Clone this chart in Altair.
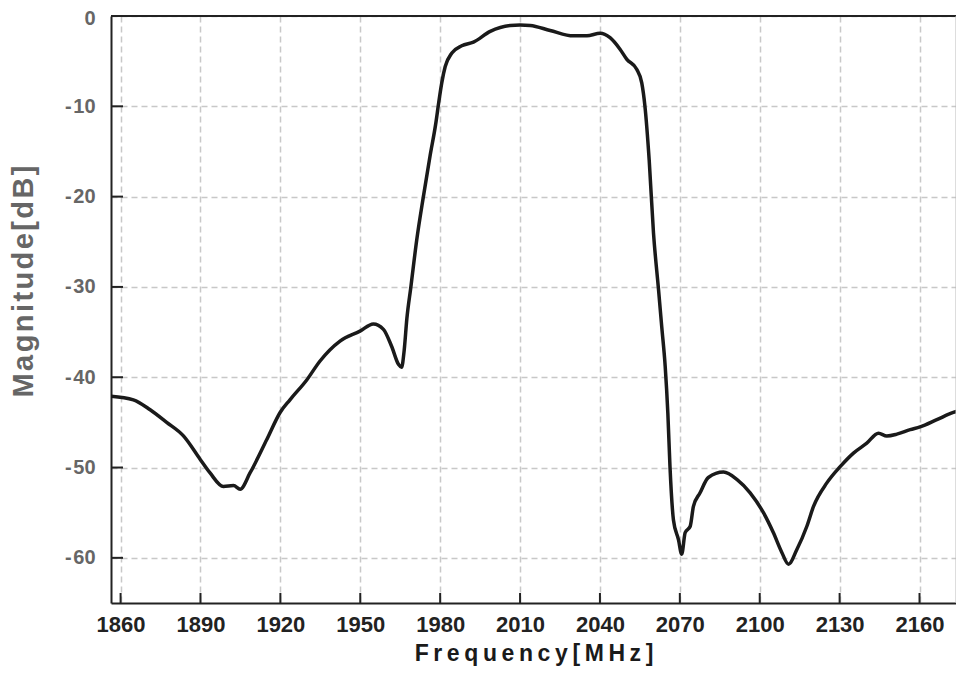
import altair as alt
import pandas as pd

freq = [1856.4, 1864.8, 1871.1, 1877.3, 1883.6, 1889.9, 1893.6, 1898.6, 1902.4, 1904.9,
        1908.6, 1914.9, 1919.9, 1923.6, 1929.9, 1934.9, 1942.4, 1949.9, 1954.9, 1958.7,
        1961.8, 1964.4, 1965.5, 1966.5, 1967.5, 1969.0, 1971.2, 1973.7, 1976.2, 1978.3,
        1979.5, 1980.6, 1981.9, 1984.4, 1988.1, 1992.5, 1998.8, 2006.3, 2010.0, 2013.8,
        2021.3, 2030.0, 2035.1, 2040.1, 2043.8, 2047.6, 2050.1, 2053.8, 2055.7, 2056.9,
        2058.5, 2060.1, 2062.0, 2063.2, 2064.5, 2065.5, 2066.3, 2067.6, 2069.5, 2070.7,
        2072.0, 2073.9, 2075.1, 2077.6, 2080.7, 2086.4, 2091.4, 2096.4, 2101.4, 2105.1,
        2108.3, 2110.8, 2113.9, 2117.7, 2120.2, 2125.2, 2130.2, 2135.2, 2140.2, 2144.6,
        2147.7, 2151.5, 2156.5, 2160.2, 2166.5, 2172.7, 2176.4]
mag = [-42.1, -42.5, -43.6, -45.0, -46.5, -49.1, -50.6, -52.1, -52.0, -52.4,
       -50.6, -46.9, -43.9, -42.5, -40.3, -38.2, -36.0, -34.9, -34.1, -34.7,
       -36.6, -38.6, -38.9, -37.0, -33.5, -30.0, -24.8, -20.0, -15.5, -12.0,
       -9.5, -7.4, -5.6, -4.1, -3.3, -2.9, -1.7, -1.05, -1.0, -1.05,
       -1.6, -2.2, -2.2, -1.9, -2.4, -3.7, -4.8, -5.9, -7.4, -10.0,
       -16.0, -24.0, -30.3, -34.4, -38.8, -44.0, -49.9, -55.8, -58.0, -59.6,
       -57.2, -56.5, -54.3, -52.8, -51.1, -50.5, -51.3, -52.8, -55.0, -57.2,
       -59.4, -60.7, -59.1, -56.5, -54.3, -51.7, -49.9, -48.4, -47.3, -46.2,
       -46.5, -46.3, -45.8, -45.5, -44.7, -43.9, -43.6]

x_ticks = [1860, 1890, 1920, 1950, 1980, 2010, 2040, 2070, 2100, 2130, 2160]
y_ticks = [0, -10, -20, -30, -40, -50, -60]
x_title = "\u2009".join("Frequency[MHz]")
y_title = "\u200a".join("Magnitude[dB]")

W, H = 845, 587
df = pd.DataFrame({"freq": freq, "mag": mag, "i": list(range(len(freq)))})
xs = alt.Scale(domain=[1856.4, 2173.7], nice=False, zero=False)
ys = alt.Scale(domain=[-65, 0], nice=False, zero=False)

FONT = "Liberation Sans"

line = alt.Chart(df).mark_line(
    color="#1a1a1a", strokeWidth=3.5, interpolate="monotone", clip=True
).encode(
    x=alt.X("freq:Q", scale=xs, axis=alt.Axis(
        values=x_ticks, title=x_title, format="d", grid=True, gridDash=[6, 4],
        gridColor="#c8c8c8", gridWidth=1.5, ticks=False, domain=True,
        domainColor="#222222", domainWidth=2,
        labelFont=FONT, labelFontWeight="bold", labelFontSize=22, labelColor="#222222",
        labelPadding=11, titleFont=FONT, titleFontWeight="bold", titleFontSize=23,
        titleColor="#1a1a1a", titlePadding=7, labelFlush=False)),
    y=alt.Y("mag:Q", scale=ys, axis=alt.Axis(
        values=y_ticks, title=y_title, grid=True, gridDash=[6, 4], gridColor="#c8c8c8",
        gridWidth=1.5, ticks=False, domain=True, domainColor="#222222", domainWidth=2,
        labelFont=FONT, labelFontWeight="bold", labelFontSize=20, labelColor="#666666",
        labelPadding=16, labelFlush=False,
        labelOffset={"condition": {"test": "datum.value === 0", "value": 2}, "value": 0},
        labelExpr="datum.value == 0 ? '0' : '-\u200a' + format(-datum.value, 'd')",
        titleFont=FONT, titleFontWeight="bold", titleFontSize=29, titleColor="#666666",
        titlePadding=26, titleY=265)),
    order="i:Q",
)

yt = alt.Chart(pd.DataFrame({"v": y_ticks[1:]})).mark_rule(color="#222222", strokeWidth=2).encode(
    y=alt.Y("v:Q", scale=ys), x=alt.value(0), x2=alt.value(12))
xt = alt.Chart(pd.DataFrame({"v": x_ticks})).mark_rule(color="#222222", strokeWidth=2).encode(
    x=alt.X("v:Q", scale=xs), y=alt.value(H), y2=alt.value(H - 10))
top = alt.Chart(pd.DataFrame({"a": [0]})).mark_rule(color="#222222", strokeWidth=2).encode(
    x=alt.value(0), x2=alt.value(W), y=alt.value(0))
right = alt.Chart(pd.DataFrame({"a": [0]})).mark_rule(color="#bbbbbb", strokeWidth=1).encode(
    x=alt.value(W), y=alt.value(0), y2=alt.value(H))

chart = alt.layer(line, yt, xt, top, right).properties(
    width=W, height=H,
    autosize=alt.AutoSizeParams(type="none"),
    padding={"left": 103, "top": 8, "right": 0, "bottom": 66},
    background="white",
).configure_view(stroke=None)

chart.save("out.html", embed_options={"renderer": "svg", "actions": False})
